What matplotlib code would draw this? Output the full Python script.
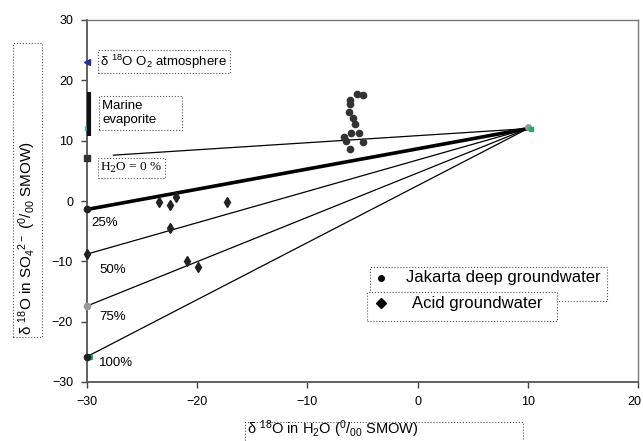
import matplotlib
matplotlib.use('Agg')
import matplotlib.pyplot as plt
from matplotlib.patches import Rectangle
from matplotlib.lines import Line2D
from matplotlib.transforms import ScaledTranslation

plt.rcParams['font.family'] = ['Liberation Sans', 'DejaVu Sans']
plt.rcParams['mathtext.fontset'] = 'custom'
plt.rcParams['mathtext.rm'] = 'Liberation Sans'
plt.rcParams['mathtext.it'] = 'Liberation Sans:italic'
plt.rcParams['mathtext.bf'] = 'Liberation Sans:bold'

# Jakarta deep groundwater (d18O H2O, d18O SO4)
jak_x = [-5.5, -5.0, -6.1, -6.1, -6.2, -5.9, -5.7, -6.0, -5.3, -6.7, -6.5, -5.0, -6.1]
jak_y = [17.7, 17.5, 16.7, 16.0, 14.7, 13.8, 12.7, 11.2, 11.2, 10.6, 9.9, 9.8, 8.6]

# Acid groundwater
acid_x = [-23.5, -22.5, -21.9, -17.3, -22.5, -20.9, -19.95]
acid_y = [-0.1, -0.6, 0.6, -0.1, -4.4, -9.9, -11.0]

# mixing lines: start points on the left, all end at the same point
end_x, end_y = 10.0, 12.0
mix_x0 = [-27.6, -30.0, -30.0, -30.0, -30.0]
mix_y0 = [7.6, -1.4, -8.8, -17.4, -25.8]
mix_lw = [0.9, 2.6, 0.9, 0.9, 0.9]
mix_labels = ['25%', '50%', '75%', '100%']
mix_label_x = [-29.6, -28.9, -28.9, -28.9]
mix_label_y = [-3.7, -11.4, -19.3, -26.9]

# end-member values on the left axis
o2_atm = 23.0
evap_lo, evap_hi = 10.7, 18.1
seawater = 12.05
h2o0 = 7.1

fig = plt.figure(figsize=(6.43, 4.41), dpi=100)
ax = fig.add_axes([87/643, 1-382/441, 551/643, 362/441])

for x0, y0, lw in zip(mix_x0, mix_y0, mix_lw):
    ax.plot([x0, end_x], [y0, end_y], color='black', lw=lw, zorder=2)

ax.plot(jak_x, jak_y, 'o', color='#333333', ms=4.5, mec='#333333', zorder=3)
ax.plot(acid_x, acid_y, 'd', color='#222222', ms=5.5, zorder=3)

# left-axis points
kw = dict(clip_on=False, zorder=4)
ax.plot([-30], [o2_atm], '<', color='#2a2a9a', ms=5, **kw)
ax.plot([-30], [seawater], 's', color='#33bbcc', ms=2.5, **kw)
ax.plot([-29.8, -29.8], [evap_lo, evap_hi], color='#111111', lw=3, solid_capstyle='butt', **kw)
ax.plot([-30], [h2o0], 's', color='#333333', ms=4.5, **kw)
ax.plot([-30], [mix_y0[1]], 'o', color='#222222', ms=4.5, **kw)
ax.plot([-30], [mix_y0[2]], 'd', color='#222222', ms=5.5, **kw)
ax.plot([-30], [mix_y0[3]], 'o', color='#999999', ms=4.5, **kw)
ax.plot([-29.7], [mix_y0[4]], 's', color='#22aa66', ms=2.5, **kw)
ax.plot([-30], [mix_y0[4]], 'o', color='#222222', ms=4.5, **kw)
ax.plot([10.05], [12.3], 'o', color='#999999', ms=4, zorder=4)
ax.plot([10.3], [11.9], 's', color='#22aa66', ms=3, zorder=4)

for lab, lx, ly in zip(mix_labels, mix_label_x, mix_label_y):
    ax.text(lx, ly, lab, fontsize=9.5, ha='left', va='center')

box = dict(boxstyle='square,pad=0.2', fc='white', ec='#555555', ls=':', lw=0.8)
ax.text(-28.8, 23.1, 'δ $^{18}$O O$_2$ atmosphere', fontsize=9.5, ha='left', va='center', bbox=box)
ax.text(-28.6, 14.6, 'Marine          \nevaporite', fontsize=9.5, ha='left', va='center', linespacing=1.3,
        bbox=dict(boxstyle='square,pad=0.25', fc='white', ec='#555555', ls=':', lw=0.8))
ax.text(-28.8, 5.5, 'H$_2$O = 0 %', fontsize=9.5, ha='left', va='center',
        family='Liberation Serif', math_fontfamily='dejavuserif', bbox=box)

ax.set_xlim(-30, 20)
ax.set_ylim(-30, 30)
ax.set_xticks([-30, -20, -10, 0, 10, 20])
ax.set_yticks([-30, -20, -10, 0, 10, 20, 30])
ax.tick_params(direction='out', length=4, width=1, color='#444444', labelsize=9, pad=6)
for s in ['left', 'bottom']:
    ax.spines[s].set_color('#555555')
    ax.spines[s].set_linewidth(1.3)
for s in ['top', 'right']:
    ax.spines[s].set_color('#777777')
    ax.spines[s].set_linewidth(1.0)
# keep the last x tick label inside the picture
last = ax.get_xticklabels()[-1]
last.set_transform(last.get_transform() + ScaledTranslation(-4/100, 0, fig.dpi_scale_trans))

# legend drawn as two overlapping dotted boxes
ax.add_patch(Rectangle((0.5136, 0.2238), 0.4301, 0.0939, transform=ax.transAxes,
                       fc='white', ec='#555555', ls=':', lw=0.8, zorder=5))
ax.add_patch(Rectangle((0.5082, 0.1685), 0.3448, 0.0801, transform=ax.transAxes,
                       fc='white', ec='#555555', ls=':', lw=0.8, zorder=6))
ax.add_line(Line2D([0.5336], [0.2873], marker='o', color='black', ms=4,
                   transform=ax.transAxes, zorder=7))
ax.add_line(Line2D([0.5336], [0.2182], marker='D', color='black', ms=5,
                   transform=ax.transAxes, zorder=7))
ax.text(0.579, 0.2873, 'Jakarta deep groundwater', transform=ax.transAxes,
        fontsize=12, ha='left', va='center', zorder=7)
ax.text(0.5898, 0.2182, 'Acid groundwater', transform=ax.transAxes,
        fontsize=12, ha='left', va='center', zorder=7)

# axis titles in dotted boxes
fig.text(247/643, 1-429/441, 'δ $^{18}$O in H$_2$O ($^{0}/_{00}$ SMOW)', fontsize=10.5,
         ha='left', va='center')
fig.patches.append(Rectangle((245/643, -0.05), 278/643, 0.05+19/441, transform=fig.transFigure,
                             fill=False, ec='#555555', ls=':', lw=0.8))
fig.text(27/643, 1-335/441, 'δ $^{18}$O in SO$_4$$^{2-}$ ($^{0}/_{00}$ SMOW)', fontsize=11,
         rotation=90, ha='center', va='bottom')
fig.patches.append(Rectangle((13/643, 1-337/441), 29/643, 294/441, transform=fig.transFigure,
                             fill=False, ec='#555555', ls=':', lw=0.8))

fig.savefig('out.png', dpi=100)
